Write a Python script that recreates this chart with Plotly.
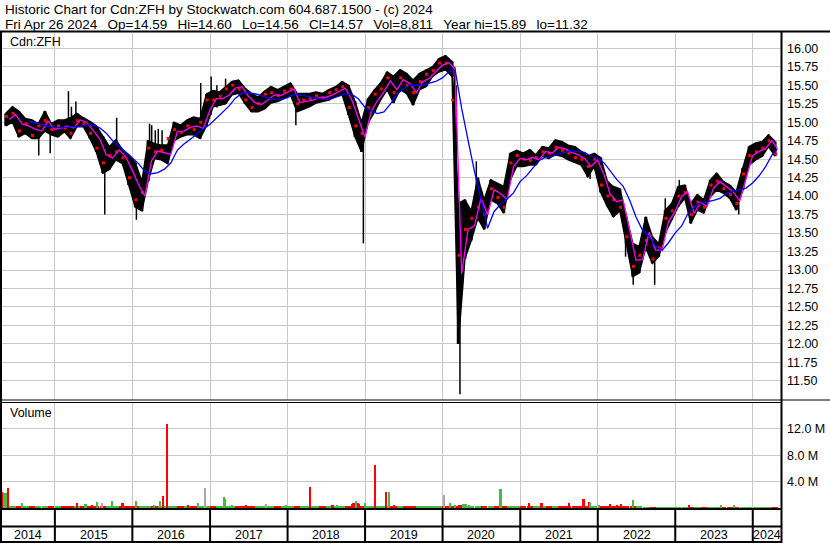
import plotly.graph_objects as go
import pandas as pd

# monthly price bands, May 2014 .. Apr 2024
hi = [15.12, 15.21, 15.15, 15.05, 15.03, 14.98, 15.15, 14.98,
      15.03, 15.03, 15.06, 15.12, 15.06, 15.01, 14.95, 14.81, 14.67, 14.76, 14.63, 14.56,
      14.45, 14.20, 14.75, 14.71, 14.69, 14.69, 15.00, 14.96, 15.03, 15.07, 15.05, 15.38,
      15.43, 15.41, 15.48, 15.55, 15.57, 15.46, 15.39, 15.34, 15.42, 15.48, 15.44, 15.48,
      15.53, 15.39, 15.39, 15.39, 15.41, 15.39, 15.44, 15.48, 15.55, 15.50, 15.28, 15.00,
      15.32, 15.44, 15.53, 15.68, 15.62, 15.71, 15.66, 15.57, 15.66, 15.71, 15.75, 15.86,
      15.90, 15.82, 13.90, 13.95, 13.80, 14.25, 13.95, 14.22, 14.17, 14.13, 14.58, 14.62,
      14.58, 14.63, 14.56, 14.67, 14.65, 14.76, 14.74, 14.69, 14.67, 14.60, 14.54, 14.58,
      14.52, 14.20, 14.13, 14.10, 13.72, 13.36, 13.32, 13.72, 13.45, 13.36, 13.81, 13.90,
      14.13, 14.15, 13.90, 14.02, 13.95, 14.22, 14.31, 14.20, 14.15, 14.06, 14.38, 14.67,
      14.72, 14.74, 14.83, 14.74]
lo = [14.95, 15.00, 14.80, 14.85, 14.78, 14.78, 14.88, 14.83,
      14.80, 14.87, 14.78, 14.94, 14.94, 14.78, 14.60, 14.31, 14.36, 14.49, 14.44, 14.15,
      13.85, 13.80, 14.20, 14.51, 14.49, 14.44, 14.75, 14.80, 14.83, 14.83, 14.78, 14.95,
      15.21, 15.23, 15.25, 15.37, 15.39, 15.25, 15.14, 15.14, 15.18, 15.26, 15.28, 15.32,
      15.37, 15.14, 15.17, 15.21, 15.26, 15.28, 15.30, 15.35, 15.37, 15.10, 14.80, 14.60,
      14.99, 15.14, 15.30, 15.44, 15.26, 15.44, 15.39, 15.23, 15.44, 15.48, 15.62, 15.68,
      15.71, 15.62, 12.00, 13.15, 13.40, 13.70, 13.55, 13.95, 13.90, 13.77, 14.22, 14.40,
      14.40, 14.42, 14.42, 14.54, 14.51, 14.56, 14.54, 14.49, 14.45, 14.42, 14.26, 14.40,
      14.05, 13.86, 13.72, 13.80, 13.36, 12.91, 12.96, 13.30, 13.09, 13.18, 13.50, 13.68,
      13.86, 13.97, 13.63, 13.81, 13.77, 13.99, 14.08, 14.04, 13.97, 13.81, 14.08, 14.42,
      14.49, 14.54, 14.67, 14.54]
cl = [15.08, 15.12, 14.88, 14.98, 14.82, 14.95, 15.02, 14.90,
      14.95, 14.92, 14.85, 15.02, 14.98, 14.85, 14.65, 14.45, 14.55, 14.60, 14.52, 14.25,
      13.95, 14.05, 14.65, 14.60, 14.62, 14.78, 14.90, 14.86, 14.95, 14.90, 15.00, 15.30,
      15.30, 15.35, 15.45, 15.50, 15.45, 15.30, 15.20, 15.25, 15.38, 15.40, 15.36, 15.42,
      15.45, 15.25, 15.30, 15.32, 15.36, 15.33, 15.40, 15.44, 15.48, 15.20, 14.95, 14.85,
      15.20, 15.38, 15.45, 15.60, 15.40, 15.60, 15.50, 15.40, 15.55, 15.65, 15.70, 15.80,
      15.80, 15.30, 13.20, 13.55, 13.70, 13.85, 13.75, 14.10, 13.98, 13.85, 14.45, 14.55,
      14.50, 14.48, 14.52, 14.60, 14.58, 14.66, 14.62, 14.58, 14.52, 14.50, 14.40, 14.50,
      14.15, 14.00, 13.95, 13.85, 13.45, 13.05, 13.20, 13.40, 13.15, 13.30, 13.70, 13.80,
      14.00, 14.05, 13.75, 13.92, 13.85, 14.15, 14.20, 14.10, 14.02, 13.90, 14.30, 14.55,
      14.60, 14.65, 14.75, 14.57]
# monthly base volume, millions
mvol = [0.40, 0.25, 0.20, 0.18, 0.20, 0.18, 0.20, 0.18,
        0.20, 0.18, 0.20, 0.22, 0.20, 0.22, 0.20, 0.25, 0.22, 0.20, 0.22, 0.25,
        0.25, 0.22, 0.20, 0.20, 0.22, 0.25, 0.20, 0.18, 0.20, 0.22, 0.20, 0.25,
        0.20, 0.18, 0.22, 0.20, 0.18, 0.20, 0.18, 0.20, 0.18, 0.20, 0.18, 0.20,
        0.20, 0.22, 0.20, 0.22, 0.18, 0.20, 0.22, 0.20, 0.22, 0.25, 0.28, 0.25,
        0.22, 0.25, 0.20, 0.22, 0.20, 0.18, 0.18, 0.20, 0.18, 0.18, 0.20, 0.18,
        0.20, 0.25, 0.35, 0.30, 0.25, 0.22, 0.20, 0.18, 0.20, 0.22, 0.20, 0.18,
        0.18, 0.20, 0.18, 0.20, 0.18, 0.20, 0.18, 0.20, 0.18, 0.22, 0.20, 0.18,
        0.20, 0.18, 0.20, 0.18, 0.20, 0.22, 0.18, 0.15, 0.15, 0.15, 0.15, 0.15,
        0.15, 0.12, 0.15, 0.12, 0.12, 0.12, 0.12, 0.12, 0.12, 0.12, 0.12, 0.12,
        0.12, 0.12, 0.12, 0.12]

# thin intraday wicks: date, low, high
spikes = [("2014-10-17", 14.55, 14.85), ("2014-12-10", 14.58, 14.90),
          ("2015-03-06", 14.95, 15.42), ("2015-03-20", 14.95, 15.21), ("2015-04-10", 15.00, 15.28),
          ("2015-08-24", 13.75, 14.50), ("2015-10-19", 14.60, 15.06),
          ("2016-01-20", 13.68, 14.10), ("2016-03-22", 14.50, 14.98), ("2016-04-01", 14.50, 14.96),
          ("2016-04-18", 14.50, 14.89), ("2016-05-02", 14.50, 14.91), ("2016-05-20", 14.50, 14.89),
          ("2016-11-18", 14.90, 15.53), ("2017-01-06", 15.10, 15.62), ("2017-02-02", 15.20, 15.50),
          ("2017-03-15", 15.30, 15.59), ("2018-02-09", 14.96, 15.30), ("2018-12-24", 13.36, 14.90),
          ("2020-02-27", 14.70, 15.75), ("2020-03-06", 13.80, 15.50), ("2020-03-23", 11.32, 12.50),
          ("2020-04-03", 12.75, 13.30), ("2020-06-08", 13.80, 14.47), ("2021-11-26", 14.23, 14.45),
          ("2022-05-12", 13.18, 13.50), ("2022-06-17", 12.80, 13.00), ("2022-09-26", 12.80, 13.20),
          ("2022-11-15", 13.60, 13.97), ("2023-01-20", 13.90, 14.22), ("2023-10-27", 13.75, 13.90)]

# larger volume days: date, millions, colour (r down, g up, x unchanged)
vol_days = [("2014-04-30", 2.4, "r"), ("2014-05-08", 2.3, "g"), ("2014-05-16", 2.3, "g"),
            ("2014-05-27", 3.1, "r"), ("2014-08-01", 0.8, "g"), ("2014-10-14", 0.3, "g"),
            ("2015-04-15", 0.8, "r"), ("2015-05-26", 0.6, "g"), ("2015-06-26", 0.5, "r"),
            ("2015-07-20", 0.9, "g"), ("2015-08-12", 0.7, "x"), ("2015-09-28", 1.0, "g"),
            ("2015-11-17", 0.8, "r"), ("2016-01-19", 1.0, "g"), ("2016-02-10", 0.3, "g"),
            ("2016-04-13", 0.5, "g"), ("2016-05-11", 1.0, "g"), ("2016-05-26", 1.8, "r"),
            ("2016-06-13", 12.7, "r"), ("2016-09-21", 0.5, "r"), ("2016-11-06", 0.8, "g"),
            ("2016-12-09", 3.0, "x"), ("2017-03-07", 1.6, "g"), ("2017-03-14", 1.3, "g"),
            ("2017-04-17", 0.4, "g"), ("2017-06-20", 0.5, "r"), ("2017-09-21", 0.6, "x"),
            ("2017-12-26", 0.4, "g"), ("2018-04-19", 3.2, "r"), ("2018-08-02", 0.5, "r"),
            ("2018-08-24", 0.5, "g"), ("2018-11-01", 0.6, "r"), ("2018-11-09", 0.8, "r"),
            ("2018-11-20", 1.0, "g"), ("2018-11-28", 0.7, "r"), ("2018-12-05", 0.6, "r"),
            ("2019-01-02", 0.8, "g"), ("2019-02-18", 6.6, "r"), ("2019-04-10", 2.4, "r"),
            ("2019-04-23", 2.4, "g"), ("2019-05-17", 0.4, "r"), ("2020-01-08", 1.9, "x"),
            ("2020-02-06", 0.7, "g"), ("2020-03-02", 0.5, "g"), ("2020-03-20", 0.5, "r"),
            ("2020-03-27", 0.5, "r"), ("2020-04-10", 0.6, "g"), ("2020-04-22", 0.6, "g"),
            ("2020-05-05", 0.5, "g"), ("2020-10-01", 2.9, "g"), ("2020-11-10", 0.3, "g"),
            ("2021-02-11", 0.8, "r"), ("2021-04-12", 0.8, "r"), ("2021-08-18", 0.8, "r"),
            ("2021-10-27", 1.4, "r"), ("2021-11-20", 0.9, "r"), ("2021-11-26", 0.7, "g"),
            ("2022-01-08", 0.5, "g"), ("2022-03-01", 0.6, "r"), ("2022-04-02", 0.4, "r"),
            ("2022-04-20", 0.6, "r"), ("2022-06-17", 1.2, "g"), ("2023-03-07", 0.4, "r"),
            ("2023-08-04", 0.4, "g"), ("2023-10-04", 0.4, "g")]

header1 = "Historic Chart for Cdn:ZFH by Stockwatch.com 604.687.1500 - (c) 2024"
header2 = ["Fri Apr 26 2024", "Op=14.59", "Hi=14.60", "Lo=14.56", "Cl=14.57",
           "Vol=8,811", "Year hi=15.89", "lo=11.32"]
x_start, x_end, last_day = "2014-04-27", "2024-05-13", "2024-04-26"

W, H = 830, 543
FONT = "Liberation Sans, Arial, sans-serif"
GRID = "#c8c8c8"
def px(x): return x / W
def py(y): return 1 - y / H

months = pd.date_range("2014-05-01", periods=len(hi), freq="MS")
mids = months + pd.Timedelta(days=14)
ends = [min(d, pd.Timestamp(last_day)) for d in months + pd.offsets.MonthEnd(0)]

df = pd.DataFrame({"hi": hi, "lo": lo, "cl": cl}, index=mids)
avg = (df.hi + df.lo) / 2
slow = avg.rolling(5, min_periods=4).mean()

fig = go.Figure()

# price range ribbon (monthly high/low) plus thin wicks
fig.add_trace(go.Scatter(x=mids, y=lo, mode="lines", line=dict(color="black", width=1.5),
                         hoverinfo="skip", xaxis="x", yaxis="y"))
fig.add_trace(go.Scatter(x=mids, y=hi, mode="lines", line=dict(color="black", width=1.5),
                         fill="tonexty", fillcolor="black",
                         hoverinfo="skip", xaxis="x", yaxis="y"))
bx, by = [], []
for d, h, l in zip(mids, hi, lo):
    bx += [d, d, None]; by += [l, h, None]
fig.add_trace(go.Scatter(x=bx, y=by, mode="lines", line=dict(color="black", width=3),
                         hoverinfo="skip", xaxis="x", yaxis="y"))
sx, sy = [], []
for d, l, h in spikes:
    sx += [d, d, None]; sy += [l, h, None]
fig.add_trace(go.Scatter(x=sx, y=sy, mode="lines", line=dict(color="black", width=1.5),
                         hoverinfo="skip", xaxis="x", yaxis="y"))
fig.add_trace(go.Scatter(x=mids + pd.Timedelta(days=3), y=cl, mode="markers",
                         marker=dict(symbol="square", size=3, color="#ff0000", line_width=0),
                         xaxis="x", yaxis="y"))
fig.add_trace(go.Scatter(x=ends, y=avg, mode="lines", line=dict(color="#ff00ff", width=1.3),
                         xaxis="x", yaxis="y"))
fig.add_trace(go.Scatter(x=ends, y=slow, mode="lines", line=dict(color="#0000ff", width=1.3),
                         xaxis="x", yaxis="y"))

# volume
cmap = {"r": "#ff0000", "g": "#44bb44", "x": "#a8a8a8"}
mcol = ["#44bb44" if i > 0 and cl[i] > cl[i - 1] else "#ff0000" for i in range(len(cl))]
day = 86400000
fig.add_trace(go.Bar(x=mids, y=mvol, width=30 * day, marker=dict(color=mcol, line_width=0),
                     xaxis="x2", yaxis="y2"))
fig.add_trace(go.Bar(x=[v[0] for v in vol_days], y=[v[1] for v in vol_days], width=8 * day,
                     marker=dict(color=[cmap[v[2]] for v in vol_days], line_width=0),
                     xaxis="x2", yaxis="y2"))

years = list(range(2015, 2025))
ystarts = [f"{y}-01-01" for y in years]
price_ticks = [11.5 + 0.25 * i for i in range(19)]

xdom = [px(2), px(781)]
axis_x = dict(domain=xdom, range=[x_start, x_end], tickvals=ystarts, showticklabels=False,
              showgrid=True, gridcolor=GRID, gridwidth=1, zeroline=False, ticks="", showline=False)
fig.update_layout(
    width=W, height=H, margin=dict(l=0, r=0, t=0, b=0),
    paper_bgcolor="white", plot_bgcolor="white", showlegend=False,
    barmode="overlay", bargap=0,
    font=dict(family=FONT, size=12.5, color="black"),
    xaxis=dict(axis_x, anchor="y"),
    xaxis2=dict(axis_x, anchor="y2"),
    yaxis=dict(domain=[py(400), py(33)], range=[11.241, 16.207], side="right",
               tickvals=price_ticks, ticktext=[f"{v:.2f}" for v in price_ticks],
               showgrid=True, gridcolor=GRID, zeroline=False, ticks="", ticklabelstandoff=5,
               tickfont=dict(size=12.5), anchor="x"),
    yaxis2=dict(domain=[py(508), py(403)], range=[0, 15.93], side="right",
                tickvals=[4, 8, 12], ticktext=["4.0 M", "8.0 M", "12.0 M"],
                showgrid=True, gridcolor=GRID, zeroline=False, ticks="", ticklabelstandoff=5,
                tickfont=dict(size=12.5), anchor="x2"),
)

shapes = []
def hline(y, x1=1.0, w=2):
    shapes.append(dict(type="line", xref="paper", yref="paper", x0=0, x1=x1, y0=py(y), y1=py(y),
                       line=dict(color="black", width=w)))
def vline(x, w=2):
    shapes.append(dict(type="line", xref="paper", yref="paper", x0=px(x), x1=px(x),
                       y0=0, y1=py(31.5), line=dict(color="black", width=w)))
hline(31.5)
hline(400, w=1)
hline(402.5, x1=px(781.5), w=1)
hline(509, x1=px(781.5))
hline(526.5, x1=px(781.5))
hline(542, x1=px(781.5))
vline(1)
vline(781.5)
for d in ystarts:
    shapes.append(dict(type="line", xref="x2", yref="paper", x0=d, x1=d, y0=py(542), y1=py(509),
                       line=dict(color="black", width=2)))
fig.update_layout(shapes=shapes)

gap = "\u00a0\u00a0\u2009"
ann = [
    dict(text=header1, x=px(3), y=py(10), xanchor="left", yanchor="middle", font=dict(size=13.5)),
    dict(text=gap.join(header2), x=px(3), y=py(24), xanchor="left", yanchor="middle",
         font=dict(size=13.5)),
    dict(text="Cdn:ZFH", x=px(8), y=py(42), xanchor="left", yanchor="middle"),
    dict(text="Volume", x=px(8), y=py(413), xanchor="left", yanchor="middle"),
]
for a in ann:
    a.update(xref="paper", yref="paper", showarrow=False)

# year labels centred in the visible part of each year
edges = [pd.Timestamp(x_start)] + [pd.Timestamp(d) for d in ystarts] + [pd.Timestamp(x_end)]
for i, y in enumerate(range(2014, 2025)):
    c = edges[i] + (edges[i + 1] - edges[i]) / 2
    ann.append(dict(text=str(y), x=c, y=py(535), xref="x2", yref="paper",
                    xanchor="center", yanchor="middle", showarrow=False))
fig.update_layout(annotations=ann)

# page body margin would shift the figure off the 830x543 window
fig.write_html("out.html", config={"displayModeBar": False},
               post_script="document.body.style.margin='0';")
